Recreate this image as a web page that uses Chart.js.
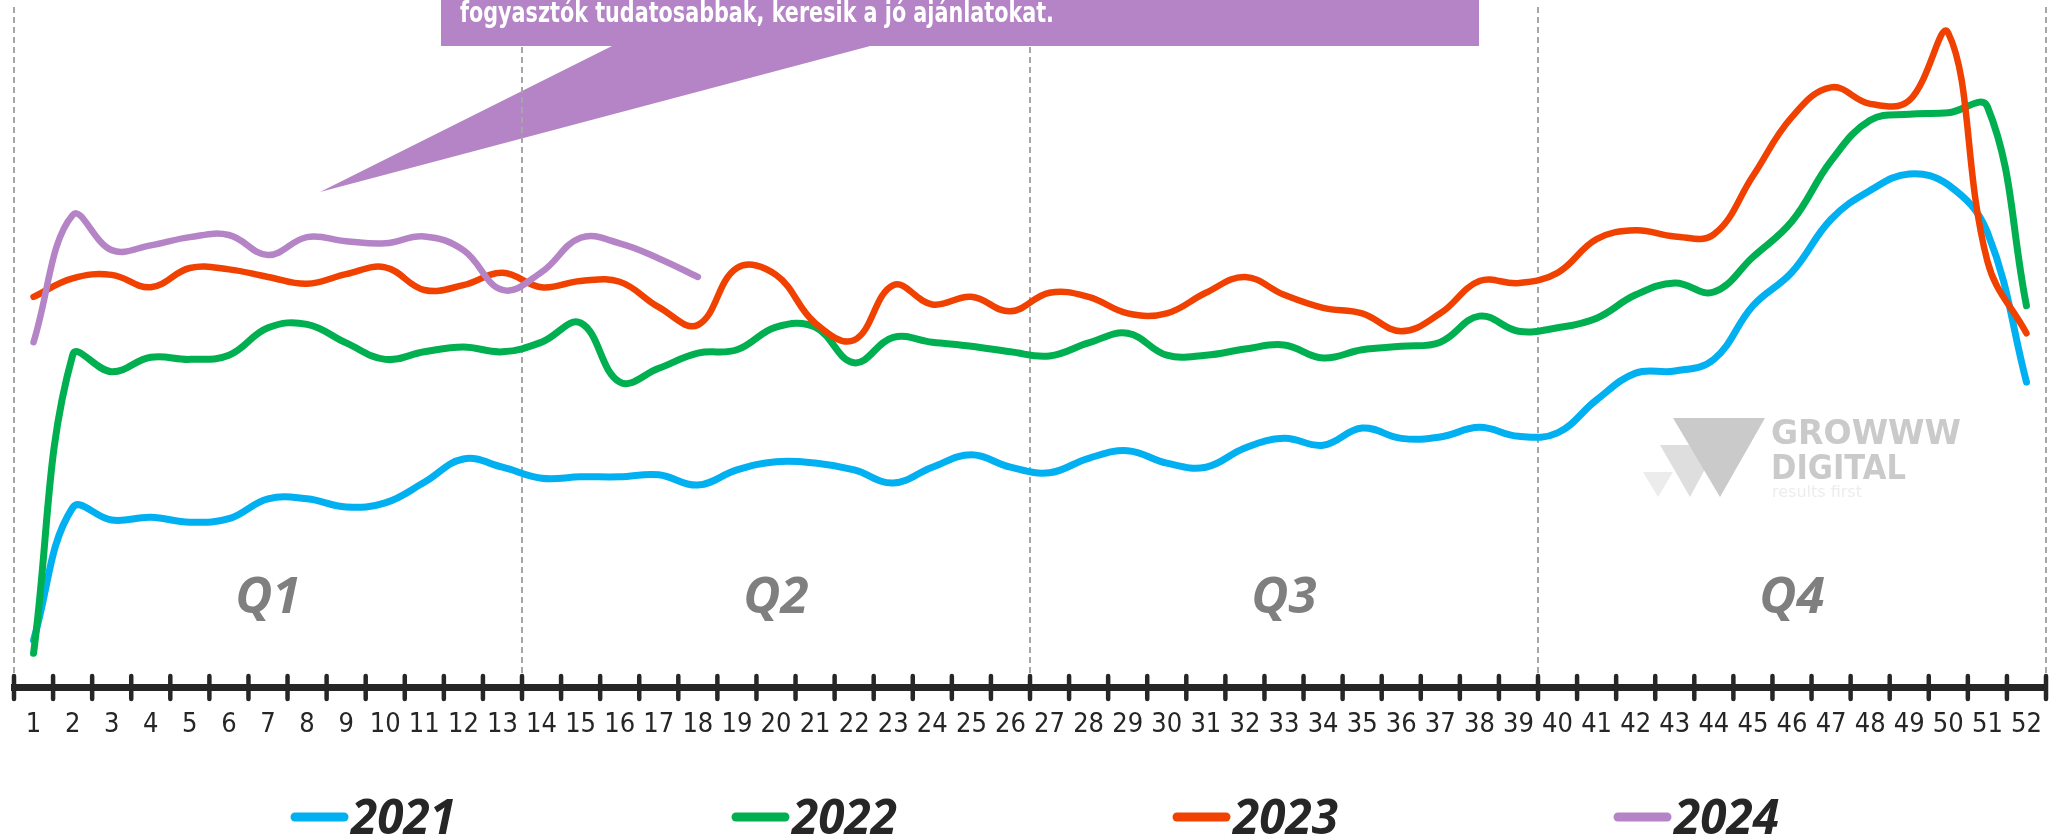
<!DOCTYPE html>
<html>
<head>
<meta charset="utf-8">
<script src="https://cdn.jsdelivr.net/npm/chart.js@4.4.0/dist/chart.umd.min.js"></script>
<style>
  html, body { margin: 0; padding: 0; background: #fff; }
  #chart { display: block; }
</style>
</head>
<body>
<canvas id="chart" width="2051" height="837"></canvas>
<script>
// weekly search index (no y axis shown)
var weeks = ['1','2','3','4','5','6','7','8','9','10','11','12','13','14','15','16','17','18','19','20',
             '21','22','23','24','25','26','27','28','29','30','31','32','33','34','35','36','37','38','39','40',
             '41','42','43','44','45','46','47','48','49','50','51','52'];

var y2021 = [6.8, 26.1, 24.3, 24.7, 24.0, 24.5, 27.4, 27.4, 26.2, 26.8,
             29.8, 33.2, 32.0, 30.4, 30.6, 30.6, 30.9, 29.4, 31.6, 32.8,
             32.6, 31.6, 29.7, 32.0, 33.8, 32.0, 31.2, 33.3, 34.4, 32.6,
             32.0, 34.8, 36.2, 35.2, 37.7, 36.2, 36.4, 37.8, 36.5, 37.0,
             41.8, 45.7, 46.0, 47.7, 55.5, 60.4, 68.1, 72.3, 74.7, 73.1,
             66.2, 44.4];
var y2022 = [4.9, 48.3, 45.9, 48.0, 47.7, 48.3, 52.3, 52.8, 50.1, 47.7,
             48.8, 49.5, 48.8, 50.2, 53.0, 44.4, 46.4, 48.6, 49.1, 52.4,
             52.4, 47.2, 50.9, 50.2, 49.6, 48.8, 48.2, 50.1, 51.5, 48.3,
             48.3, 49.2, 49.8, 47.9, 49.1, 49.6, 50.2, 54.0, 51.8, 52.3,
             53.7, 57.1, 58.8, 57.5, 62.6, 67.8, 76.6, 82.5, 83.4, 83.6,
             84.5, 55.5];
var y2023 = [56.8, 59.5, 60.0, 58.2, 61.0, 60.8, 59.7, 58.7, 60.1, 61.1,
             57.8, 58.5, 60.3, 58.2, 59.1, 59.0, 55.3, 52.7, 61.0, 60.0,
             53.0, 50.5, 58.5, 55.7, 56.8, 54.7, 57.4, 56.8, 54.4, 54.4,
             57.4, 59.7, 57.1, 55.2, 54.4, 51.8, 54.4, 59.1, 58.8, 60.3,
             65.2, 66.5, 65.6, 65.9, 74.4, 83.0, 87.3, 84.9, 85.4, 95.2,
             62.0, 51.5];
var y2024 = [50.2, 68.7, 63.6, 64.3, 65.5, 65.8, 62.9, 65.5, 64.9, 64.6,
             65.6, 63.6, 57.8, 60.4, 65.4, 64.6, 62.4, 59.7];

var seriesNames = ['2021', '2022', '2023', '2024'];
var seriesColors = ['#00b0f0', '#00b050', '#f04100', '#b484c6'];
var quarterLabels = ['Q1', 'Q2', 'Q3', 'Q4'];
var bannerText = 'fogyasztók tudatosabbak, keresik a jó ajánlatokat.';

var narrowFont = "'Liberation Sans Narrow', 'DejaVu Sans Condensed', 'Open Sans', sans-serif";

// x pixel of the k-th boundary between weeks
function boundary(scale, k) {
    var step = scale.getPixelForValue(1) - scale.getPixelForValue(0);
    return scale.getPixelForValue(0) - step / 2 + k * step;
}

function tri(ctx, ax, ay, bx, by, cx, cy) {
    ctx.beginPath();
    ctx.moveTo(ax, ay);
    ctx.lineTo(bx, by);
    ctx.lineTo(cx, cy);
    ctx.closePath();
    ctx.fill();
}

var calloutPlugin = {
    id: 'callout',
    beforeDraw: function(chart) {
        var ctx = chart.ctx;
        ctx.save();
        ctx.fillStyle = '#b484c6';
        tri(ctx, 614, 45, 874, 45, 320, 192);
        ctx.restore();
    },
    beforeDatasetsDraw: function(chart) {
        var ctx = chart.ctx;
        ctx.save();
        ctx.fillStyle = '#b484c6';
        ctx.fillRect(441, 0, 1038, 46);
        ctx.fillStyle = '#ffffff';
        ctx.font = "bold 29px " + narrowFont;
        ctx.textBaseline = 'alphabetic';
        ctx.fillText(bannerText, 460, 22, 594);
        ctx.restore();
    }
};

var axisPlugin = {
    id: 'axisDecor',
    beforeDatasetsDraw: function(chart) {
        var ctx = chart.ctx;
        var xs = chart.scales.x;
        var yAxis = chart.chartArea.bottom;
        ctx.save();
        // tick marks across the axis line
        ctx.strokeStyle = '#262626';
        ctx.lineWidth = 4.5;
        ctx.lineCap = 'round';
        for (var k = 0; k <= weeks.length; k++) {
            var x = boundary(xs, k);
            ctx.beginPath();
            ctx.moveTo(x, yAxis - 11);
            ctx.lineTo(x, yAxis + 12);
            ctx.stroke();
        }
        // quarter labels
        ctx.fillStyle = '#7f7f7f';
        ctx.font = "bold italic 51px 'Open Sans', sans-serif";
        ctx.textAlign = 'center';
        ctx.textBaseline = 'alphabetic';
        for (var q = 0; q < quarterLabels.length; q++) {
            var cx = (boundary(xs, q * 13) + boundary(xs, q * 13 + 13)) / 2;
            ctx.fillText(quarterLabels[q], cx, 613);
        }
        // watermark logo
        ctx.fillStyle = '#ececec';
        tri(ctx, 1643, 472, 1673, 472, 1658, 497);
        ctx.fillStyle = '#dedede';
        tri(ctx, 1660, 445, 1718, 445, 1690, 497);
        ctx.fillStyle = '#cacaca';
        tri(ctx, 1673, 418, 1765, 418, 1720, 497);
        ctx.textAlign = 'left';
        ctx.font = "bold 34px 'DejaVu Sans', sans-serif";
        ctx.fillText('GROWWW', 1771, 444, 190);
        ctx.font = "bold 33px 'DejaVu Sans', sans-serif";
        ctx.fillText('DIGITAL', 1771, 479, 135);
        ctx.fillStyle = '#ededed';
        ctx.font = "16px 'DejaVu Sans', sans-serif";
        ctx.fillText('results first', 1772, 497, 96);
        ctx.restore();
    },
    afterDraw: function(chart) {
        // legend row
        var ctx = chart.ctx;
        ctx.save();
        ctx.font = "bold italic 49px 'Open Sans', sans-serif";
        ctx.textBaseline = 'alphabetic';
        for (var i = 0; i < chart.data.datasets.length; i++) {
            var ds = chart.data.datasets[i];
            var x0 = 291 + i * 441;
            ctx.strokeStyle = ds.borderColor;
            ctx.lineWidth = 9;
            ctx.lineCap = 'round';
            ctx.beginPath();
            ctx.moveTo(x0 + 4, 817);
            ctx.lineTo(x0 + 53, 817);
            ctx.stroke();
            ctx.fillStyle = '#262626';
            ctx.fillText(ds.label, x0 + 60, 834, 105);
        }
        ctx.restore();
    }
};

function lineSet(i, data, width, order) {
    return {
        label: seriesNames[i],
        data: data,
        borderColor: seriesColors[i],
        backgroundColor: seriesColors[i],
        borderWidth: width,
        pointRadius: 0,
        pointHoverRadius: 0,
        tension: 0.4,
        borderCapStyle: 'round',
        borderJoinStyle: 'round',
        fill: false,
        clip: false,
        order: order
    };
}

var chart = new Chart(document.getElementById('chart'), {
    type: 'line',
    data: {
        labels: weeks,
        datasets: [
            lineSet(0, y2021, 7, 4),
            lineSet(1, y2022, 7, 3),
            lineSet(2, y2023, 6.5, 2),
            lineSet(3, y2024, 6.5, 1)
        ]
    },
    options: {
        responsive: false,
        animation: false,
        layout: { padding: { left: 14, right: 5, top: 7, bottom: 0 } },
        plugins: {
            legend: { display: false },
            tooltip: { enabled: false }
        },
        scales: {
            x: {
                offset: true,
                grid: {
                    offset: true,
                    drawTicks: true,
                    tickLength: 20,
                    tickColor: 'rgba(0,0,0,0)',
                    lineWidth: 2,
                    color: function(c) {
                        if (c.index === undefined) return '#a6a6a6';
                        return c.index % 13 === 0 ? '#a6a6a6' : 'rgba(0,0,0,0)';
                    }
                },
                border: { display: true, color: '#262626', width: 7, dash: [6, 4] },
                ticks: {
                    color: '#262626',
                    font: { family: narrowFont, size: 27 },
                    padding: 2,
                    maxRotation: 0,
                    autoSkip: false
                },
                afterFit: function(scale) {
                    // fixed band under the plot: tick labels + legend row
                    scale.height = 150;
                    scale.paddingLeft = 0;
                    scale.paddingRight = 0;
                }
            },
            y: {
                display: false,
                min: 0,
                max: 99
            }
        }
    },
    plugins: [calloutPlugin, axisPlugin]
});
</script>
</body>
</html>
